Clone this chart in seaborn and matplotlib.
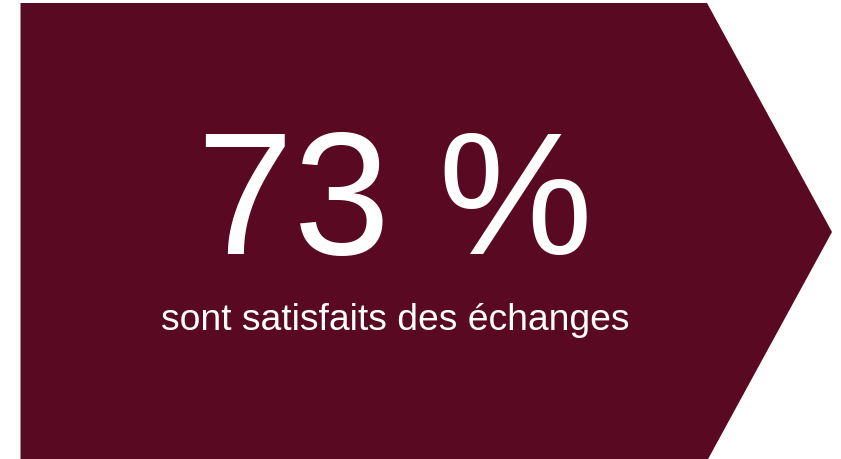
import matplotlib.pyplot as plt
import seaborn as sns
from matplotlib.patches import Polygon

# donnees
pourcentage = 73
libelle = 'sont satisfaits des échanges'

sns.set_theme(style='white')
plt.rcParams['font.family'] = ['Liberation Sans', 'DejaVu Sans']

fig = plt.figure(figsize=(8.41, 4.60), dpi=100)
ax = fig.add_axes([0, 0, 1, 1])
ax.set_xlim(0, 841)
ax.set_ylim(460, 0)
ax.axis('off')

# fleche (pentagone)
fleche = Polygon([(20.5, 4), (707, 4), (832, 233), (707, 462), (20.5, 462)],
                 closed=True, facecolor='#5a0922', edgecolor='none')
ax.add_patch(fleche)

ax.text(395, 254, f'{pourcentage} %', color='white', fontsize=125,
        ha='center', va='baseline')
ax.text(395, 330, libelle, color='white', fontsize=26.8,
        ha='center', va='baseline')

fig.savefig('out.png', dpi=100)
